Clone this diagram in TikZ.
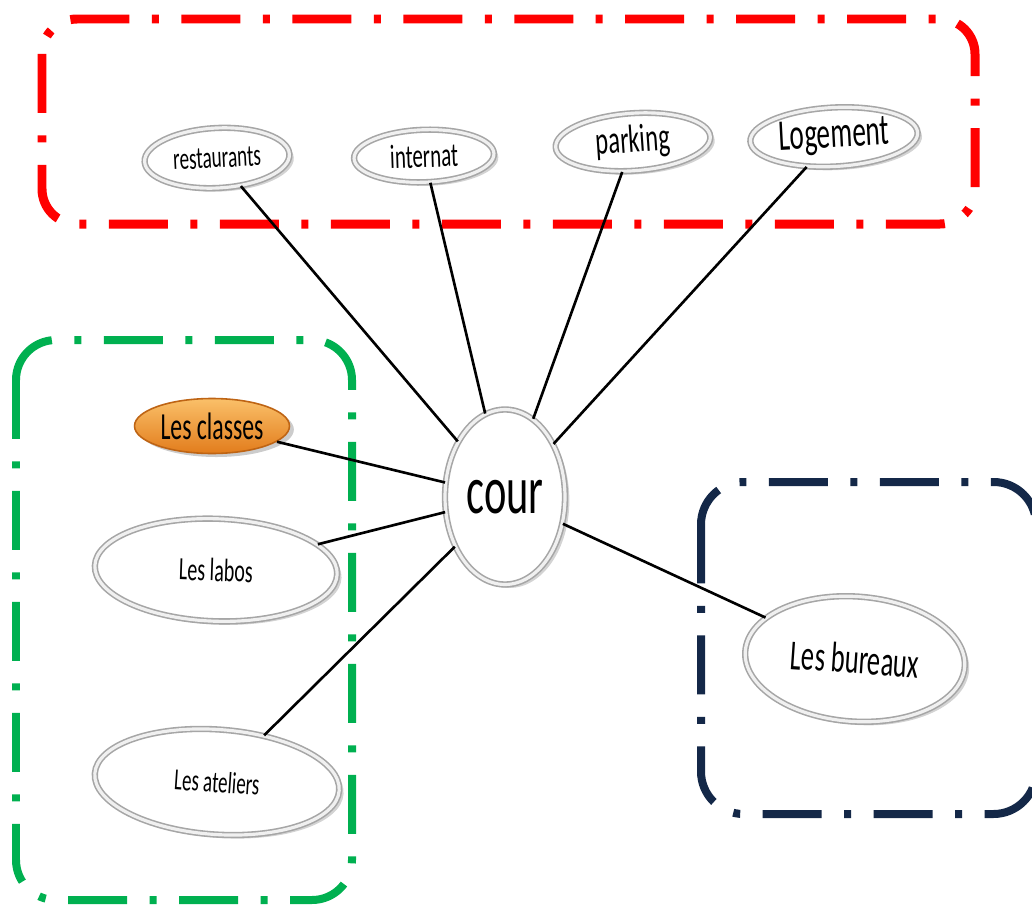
\documentclass[tikz,border=0pt]{standalone}
\usepackage{fontspec}
\setmainfont[FakeStretch=0.62]{Carlito}
\usetikzlibrary{shapes.geometric,shadows}
\definecolor{redbox}{RGB}{255,0,0}
\definecolor{greenbox}{RGB}{0,176,80}
\definecolor{navybox}{RGB}{20,40,72}
\definecolor{orangeA}{RGB}{250,192,105}
\definecolor{orangeB}{RGB}{226,124,28}
\definecolor{orangeC}{RGB}{190,100,20}
\tikzset{
  frame/.style={line width=0.18cm, dash pattern=on 1.18cm off 0.45cm on 0.14cm off 0.45cm},
  bubble/.style={ellipse, fill=white, draw=gray!70, double=gray!12, double distance=1.8pt,
    line width=0.9pt, inner sep=0pt,
    drop shadow={shadow xshift=2.5pt, shadow yshift=-2pt, opacity=0.35}},
  obubble/.style={ellipse, draw=orangeC, line width=0.9pt, top color=orangeA, bottom color=orangeB,
    inner sep=0pt, drop shadow={shadow xshift=2.5pt, shadow yshift=-2pt, opacity=0.4}},
  link/.style={line width=1.5pt, black}
}
\begin{document}
\begin{tikzpicture}[x=0.02cm, y=-0.02cm]
\useasboundingbox (0,0) rectangle (1032,906);
\begin{scope}
\clip (0,0) rectangle (1032,906);
% frames
\draw[frame, redbox, rounded corners=0.7cm] (42,19) rectangle (975,224);
\draw[frame, greenbox, line width=0.16cm, rounded corners=0.8cm] (16,340) rectangle (352,900);
\draw[frame, navybox, line width=0.16cm, rounded corners=0.85cm] (701,482) rectangle (1036,814);

% nodes
\node[bubble, minimum width=2.9cm, minimum height=1.2cm, rotate=3,
  font=\fontsize{17.6}{20}\selectfont] (rest) at (217,158) {restaurants};
\node[bubble, minimum width=2.8cm, minimum height=1.05cm, rotate=2,
  font=\fontsize{19.2}{22}\selectfont] (inter) at (424,156) {internat};
\node[bubble, minimum width=3.1cm, minimum height=1.15cm, rotate=4,
  font=\fontsize{22.4}{25}\selectfont] (park) at (633,142) {parking};
\node[bubble, minimum width=3.35cm, minimum height=1.18cm, rotate=3,
  font=\fontsize{25}{28}\selectfont] (loge) at (834,137) {Logement};
\node[obubble, minimum width=3.1cm, minimum height=1.1cm,
  font=\fontsize{21.8}{24}\selectfont] (classes) at (212,426) {Les classes};
\node[bubble, minimum width=4.85cm, minimum height=2.05cm, rotate=-2,
  font=\fontsize{18.4}{21}\selectfont] (labos) at (216,570) {Les labos};
\node[bubble, minimum width=4.9cm, minimum height=2.1cm, rotate=-4,
  font=\fontsize{17.4}{20}\selectfont] (ateliers) at (217,782) {Les ateliers};
\node[bubble, minimum width=2.4cm, minimum height=3.5cm,
  font=\fontsize{39}{42}\selectfont] (cour) at (505,497) {cour};
\node[bubble, minimum width=4.4cm, minimum height=2.5cm, rotate=-4,
  font=\fontsize{24.3}{27}\selectfont] (bureaux) at (855,659) {Les bureaux};
\end{scope}

% links
\draw[link] (rest) -- (cour);
\draw[link] (inter) -- (cour);
\draw[link] (park) -- (cour);
\draw[link] (loge) -- (cour);
\draw[link] (classes) -- (cour);
\draw[link] (labos) -- (cour);
\draw[link] (ateliers) -- (cour);
\draw[link] (cour) -- (bureaux);
\end{tikzpicture}
\end{document}
